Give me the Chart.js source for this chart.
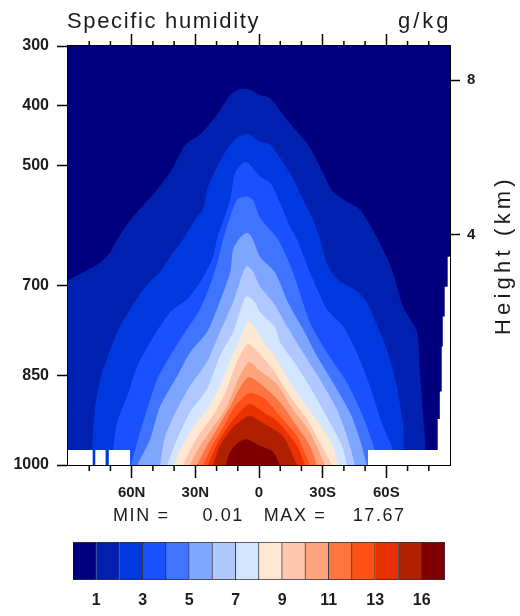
<!DOCTYPE html>
<html>
<head>
<meta charset="utf-8">
<title>Specific humidity</title>
<script src="https://cdn.jsdelivr.net/npm/chart.js@4"></script>
<style>
  html, body { margin: 0; padding: 0; background: #fff; }
  #wrap { position: relative; width: 520px; height: 616px; overflow: hidden; }
  canvas { position: absolute; left: 0; filter: blur(0.7px); }
  #chartCanvas { top: 0; }
  #barCanvas { top: 530px; }
</style>
</head>
<body>
<div id="wrap">
  <canvas id="chartCanvas" width="520" height="530"></canvas>
  <canvas id="barCanvas" width="520" height="86"></canvas>
</div>
<script>
// --- contour lines: latitude (N positive) and pressure (hPa) ---
const level0Lat = [90, -90];
const level0Pres = [300, 300];
const level1Lat = [90, 82.8, 76.2, 70.1, 66.8, 59.3, 48, 40.5, 34.8, 27.8, 19.8, 13.6, 8.9, 5.2, -0.5, -5.2, -11.3, -17.9, -24, -30.1, -34.8, -41.4, -46.6, -50.8, -56, -62.6, -67.8, -74.4, -75.8, -78.6, -78.6];
const level1Pres = [692, 678, 665, 645, 623, 585, 540, 503, 465, 448, 415, 382, 372, 372, 382, 387, 415, 443, 470, 512, 543, 560, 570, 590, 623, 673, 735, 777, 845, 975, 1000];
const level2Lat = [78.6, 78.6, 77.2, 74.8, 70.1, 65.4, 59.3, 52.7, 46.6, 40.5, 35.8, 29.2, 26.4, 24, 19.8, 15.1, 10.4, 5.6, -0.5, -5.2, -9.9, -15.5, -20.2, -25.4, -28.7, -32.5, -38.1, -45.2, -50.8, -56, -60.7, -64.9, -68.2, -68.2, -68.2];
const level2Pres = [1000, 975, 902, 857, 807, 768, 732, 698, 677, 645, 623, 585, 573, 535, 502, 473, 453, 447, 460, 465, 487, 518, 552, 590, 623, 668, 693, 707, 728, 770, 812, 868, 940, 975, 1000];
const level3Lat = [68.7, 68.7, 66.8, 62.1, 57.4, 51.3, 41.9, 33.9, 27.8, 21.6, 19.8, 13.6, 11.3, 7.5, 5.2, -0.5, -5.2, -9.9, -14.6, -17.9, -24, -32, -39.5, -46.1, -52.2, -58.4, -63.1, -63.1];
const level3Pres = [1000, 975, 928, 885, 835, 795, 745, 723, 695, 652, 623, 557, 512, 495, 495, 518, 528, 562, 602, 623, 678, 740, 768, 812, 868, 935, 975, 1000];
const level4Lat = [60.2, 57.4, 52.7, 48, 41.9, 33.9, 27.8, 21.6, 18.4, 16.9, 10.4, 5.6, 2.8, -0.5, -8.9, -16, -24, -32, -41.4, -48.9, -54.6, -55.5];
const level4Pres = [1000, 962, 907, 857, 818, 773, 740, 685, 645, 623, 557, 552, 557, 587, 623, 678, 762, 812, 862, 918, 975, 1000];
const level5Lat = [57.4, 51.3, 46.6, 38.6, 32.5, 24.5, 19.8, 13.6, 12.2, 8.9, 5.6, 3.3, -0.5, -7.5, -13.6, -20.7, -27.3, -34.8, -42.8, -47.5, -50.8];
const level5Pres = [1000, 957, 902, 852, 812, 778, 740, 678, 640, 620, 612, 620, 652, 678, 728, 773, 818, 862, 912, 957, 1000];
const level6Lat = [46.6, 44.2, 38.6, 32.5, 24.5, 18.4, 12.2, 7.5, 5.6, 2.8, -0.5, -6.6, -13.2, -20.7, -28.7, -36.7, -41.9, -45.2];
const level6Pres = [1000, 952, 907, 868, 828, 778, 728, 678, 668, 677, 702, 728, 768, 812, 857, 907, 957, 1000];
const level7Lat = [43.3, 38.6, 32.5, 24.5, 18.4, 12.2, 7.5, 5.6, 1.9, -0.5, -7.5, -9.9, -17.9, -25.4, -32.5, -39.1, -41.4];
const level7Pres = [1000, 957, 912, 873, 818, 778, 728, 718, 728, 745, 770, 795, 835, 878, 923, 968, 1000];
const level8Lat = [40, 36.2, 31.1, 24.5, 18.4, 12.7, 8.9, 5.2, 0.9, -2.8, -7.5, -14.6, -22.6, -30.1, -34.8, -37.2];
const level8Pres = [1000, 968, 937, 907, 868, 818, 790, 760, 777, 798, 818, 862, 902, 940, 968, 1000];
const level9Lat = [35.8, 31.5, 26.4, 20.7, 15.1, 10.4, 5.2, -0.5, -6.6, -14.6, -22.6, -28.7, -34.4];
const level9Pres = [1000, 968, 940, 912, 873, 828, 798, 815, 840, 885, 923, 962, 1000];
const level10Lat = [32.5, 27.8, 21.6, 15.1, 9.9, 4.7, -0.5, -8.5, -16, -24, -31.1];
const level10Pres = [1000, 968, 937, 902, 857, 828, 843, 865, 907, 945, 1000];
const level11Lat = [29.2, 24.5, 19.3, 13.6, 8.9, 4.7, -1.9, -9.9, -17.9, -24, -27.3];
const level11Pres = [1000, 968, 937, 902, 870, 853, 868, 895, 935, 968, 1000];
const level12Lat = [26.4, 22.1, 16.9, 11.3, 4.7, -1.9, -9.9, -17.9, -24];
const level12Pres = [1000, 968, 937, 902, 880, 887, 918, 952, 1000];
const level13Lat = [24, 19.3, 12.7, 4.7, -1.4, -8.9, -17.9, -21.6];
const level13Pres = [1000, 962, 927, 898, 910, 928, 968, 1000];
const level14Lat = [21.6, 18.4, 12.2, 4.7, -1.9, -11.3, -17.9];
const level14Pres = [1000, 968, 937, 918, 930, 952, 1000];
const level15Lat = [15.5, 13.6, 8.9, 5.6, -0.5, -6.6, -9.9];
const level15Pres = [1000, 978, 960, 957, 968, 978, 1000];

// white, no data under the ground
const missing1Lat = [90, 90, 78.3, 78.3];
const missing1Pres = [1000, 975, 975, 1000];
const missing2Lat = [77.2, 77.2, 72.2, 72.2];
const missing2Pres = [1000, 975, 975, 1000];
const missing3Lat = [70.9, 70.9, 60.7, 60.7];
const missing3Pres = [1000, 975, 975, 1000];
const missing4Lat = [-51.3, -51.3, -84.2, -84.2, -85.2, -85.2, -86.1, -86.1, -86.6, -86.6, -87.5, -87.5, -88.9, -88.9, -90, -90];
const missing4Pres = [1000, 975, 975, 923, 923, 877, 877, 802, 802, 752, 752, 702, 702, 652, 652, 1000];

const bandColors = ["#00007f", "#0020b0", "#0038e0", "#1a50ff", "#3f74ff", "#7fa6ff", "#b0c8ff", "#d2e6ff",
  "#ffe8d2", "#ffc8ae", "#ffa57e", "#ff7440", "#ff5018", "#e83000", "#b02000", "#7f0000"];

// --- axes ---
const pressureTicks = [300, 400, 500, 700, 850, 1000];
const heightTickPres = [357, 615];
const heightLabels = ["8", "4"];
const latTicks = [60, 30, 0, -30, -60];
const latLabels = ["60N", "30N", "0", "30S", "60S"];
const latMinor = [80, 70, 50, 40, 20, 10, -10, -20, -40, -50, -70, -80];

// --- color bar ---
const barWidths = [1, 1, 1, 1, 1, 1, 1, 1, 1, 1, 1, 1, 1, 1, 1, 1];
const barEdges = [1, 3, 5, 7, 9, 11, 13, 15];
const barLabels = ["1", "3", "5", "7", "9", "11", "13", "16"];

const contourLat = [level0Lat, level1Lat, level2Lat, level3Lat, level4Lat, level5Lat, level6Lat, level7Lat,
  level8Lat, level9Lat, level10Lat, level11Lat, level12Lat, level13Lat, level14Lat, level15Lat];
const contourPres = [level0Pres, level1Pres, level2Pres, level3Pres, level4Pres, level5Pres, level6Pres, level7Pres,
  level8Pres, level9Pres, level10Pres, level11Pres, level12Pres, level13Pres, level14Pres, level15Pres];
const missingLat = [missing1Lat, missing2Lat, missing3Lat, missing4Lat];
const missingPres = [missing1Pres, missing2Pres, missing3Pres, missing4Pres];

const FONT = "'Liberation Sans', Arial, sans-serif";
const TEXT = "#1c1c1c";

function filled(lats, pres, color, order, tension) {
  return {
    data: lats.map((lat, i) => ({ x: lat, y: pres[i] })),
    fill: { value: 1000 },
    backgroundColor: color,
    borderWidth: 0,
    pointRadius: 0,
    tension,
    order
  };
}

const datasets = contourLat.map((lats, i) => filled(lats, contourPres[i], bandColors[i], 100 - i, 0.25));
missingLat.forEach((lats, i) => datasets.push(filled(lats, missingPres[i], "#ffffff", -1 - i, 0)));

// free text round the plot, NCL style wide tracking
const textItems = [
  { text: "Specific humidity", x: 67, y: 28, size: 22, spacing: 1.65, rot: 0 },
  { text: "g/kg", x: 398, y: 28, size: 22, spacing: 3, rot: 0 },
  { text: "MIN =     0.01   MAX =    17.67", x: 113, y: 521, size: 18, spacing: 1.6, rot: 0 },
  { text: "Height (km)", x: 510, y: 335, size: 22, spacing: 4.2, rot: -Math.PI / 2 }
];

const decorations = {
  id: "decorations",
  afterDraw(chart) {
    const ctx = chart.ctx;
    // minor latitude ticks, top and bottom
    ctx.save();
    ctx.strokeStyle = "#000";
    ctx.lineWidth = 1.5;
    latMinor.forEach(lat => {
      const px = chart.scales.x.getPixelForValue(lat);
      ctx.beginPath();
      ctx.moveTo(px, chart.chartArea.bottom);
      ctx.lineTo(px, chart.chartArea.bottom + 6);
      ctx.moveTo(px, chart.chartArea.top);
      ctx.lineTo(px, chart.chartArea.top - 5);
      ctx.stroke();
    });
    ctx.restore();

    textItems.forEach(t => {
      ctx.save();
      ctx.translate(t.x, t.y);
      ctx.rotate(t.rot);
      ctx.font = `${t.size}px ${FONT}`;
      ctx.letterSpacing = `${t.spacing}px`;
      ctx.fillStyle = TEXT;
      ctx.textAlign = "left";
      ctx.textBaseline = "alphabetic";
      ctx.fillText(t.text, 0, 0);
      ctx.restore();
    });
  }
};

const tickGrid = len => ({ drawOnChartArea: false, tickLength: len, tickColor: "#000", tickWidth: 1.5 });
const axisBorder = { display: true, color: "#000", width: 2 };

new Chart(document.getElementById("chartCanvas"), {
  type: "line",
  data: { datasets },
  plugins: [decorations],
  options: {
    responsive: false,
    animation: false,
    events: [],
    layout: { padding: 0 },
    plugins: { legend: { display: false }, title: { display: false }, tooltip: { enabled: false } },
    scales: {
      x: {
        type: "linear", position: "bottom", reverse: true, min: -90, max: 90,
        grid: tickGrid(13), border: axisBorder,
        afterBuildTicks: s => { s.ticks = latTicks.map(value => ({ value })); },
        afterFit: s => { s.height = 65; },
        ticks: {
          autoSkip: false, maxRotation: 0, padding: 6, color: TEXT,
          font: { family: FONT, size: 15, weight: "bold" },
          callback: v => latLabels[latTicks.indexOf(v)]
        }
      },
      xTop: {
        type: "linear", position: "top", reverse: true, min: -90, max: 90,
        grid: tickGrid(12), border: axisBorder,
        afterBuildTicks: s => { s.ticks = latTicks.map(value => ({ value })); },
        afterFit: s => { s.height = 46; },
        ticks: { display: false }
      },
      y: {
        type: "linear", position: "left", reverse: true, min: 300, max: 1000,
        grid: tickGrid(11), border: axisBorder,
        afterBuildTicks: s => { s.ticks = pressureTicks.map(value => ({ value })); },
        afterFit: s => { s.width = 68; },
        ticks: {
          autoSkip: false, padding: 8, color: TEXT,
          font: { family: FONT, size: 16, weight: "bold" },
          callback: v => String(v)
        }
      },
      y2: {
        type: "linear", position: "right", reverse: true, min: 300, max: 1000,
        grid: tickGrid(10), border: axisBorder,
        afterBuildTicks: s => { s.ticks = heightTickPres.map(value => ({ value })); },
        afterFit: s => { s.width = 70; },
        ticks: {
          autoSkip: false, padding: 7, color: TEXT,
          font: { family: FONT, size: 15, weight: "bold" },
          callback: v => heightLabels[heightTickPres.indexOf(v)]
        }
      }
    }
  }
});

// --- color bar as one stacked bar ---
new Chart(document.getElementById("barCanvas"), {
  type: "bar",
  data: {
    labels: [""],
    datasets: barWidths.map((w, i) => ({
      data: [w],
      backgroundColor: bandColors[i],
      borderColor: "#333",
      borderWidth: 1,
      categoryPercentage: 1,
      barPercentage: 1
    }))
  },
  options: {
    indexAxis: "y",
    responsive: false,
    animation: false,
    events: [],
    layout: { padding: { left: 73, right: 75, top: 12, bottom: 0 } },
    plugins: { legend: { display: false }, tooltip: { enabled: false } },
    scales: {
      y: { stacked: true, display: false },
      x: {
        stacked: true, min: 0, max: 16,
        grid: { display: false }, border: { display: false },
        afterBuildTicks: s => { s.ticks = barEdges.map(value => ({ value })); },
        afterFit: s => { s.height = 36; },
        ticks: {
          autoSkip: false, maxRotation: 0, padding: 3, color: TEXT,
          font: { family: FONT, size: 16, weight: "bold" },
          callback: v => barLabels[barEdges.indexOf(v)]
        }
      }
    }
  }
});
</script>
</body>
</html>
